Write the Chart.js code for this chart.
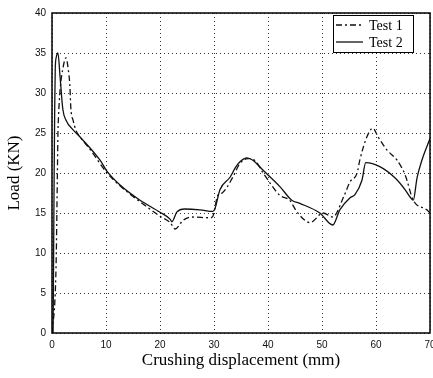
<!DOCTYPE html>
<html>
<head>
<meta charset="utf-8">
<script src="https://cdn.jsdelivr.net/npm/chart.js@4.4.1/dist/chart.umd.min.js"></script>
<style>
  html, body { margin: 0; padding: 0; background: #fff; }
  #wrap { width: 433px; height: 378px; }
</style>
</head>
<body>
<div id="wrap"><canvas id="loadChart"></canvas></div>
<script>
// --- data ---
const test1X = [0, 0.6, 0.8, 0.9, 1.0, 1.1, 1.2, 1.5, 2.0, 2.6, 3.0, 3.3, 3.5, 3.9, 4.4, 5.2, 7, 10.2, 12.6, 16.3, 20, 21.9, 22.8, 24.3, 25.9, 29.3, 29.8, 30.7, 31.5, 33.5, 34.8, 36.3, 37.5, 39.2, 42.2, 44, 45.4, 47.8, 50.2, 52, 54, 55.2, 56.5, 57, 58.3, 59.4, 60.4, 62, 63.9, 65.4, 66.9, 69.4, 70];
const test1Y = [0, 5, 10, 15, 20, 25, 27, 30.4, 33, 34.4, 33, 31, 28, 26.6, 25.4, 24.5, 23, 20, 18.4, 16.4, 14.6, 13.8, 13, 14.1, 14.5, 14.4, 14.6, 17.2, 17.5, 19.5, 21.2, 21.8, 21.6, 19.9, 17.2, 16.6, 15.1, 13.8, 15, 14.5, 17, 18.9, 20, 21.6, 24.5, 25.6, 24.5, 22.9, 21.6, 19.75, 16.6, 15.4, 15];

const test2X = [0.2, 0.3, 0.4, 0.5, 0.6, 0.8, 1.1, 1.5, 2.0, 2.6, 3.9, 5.2, 8.9, 10.2, 12.6, 16.3, 20, 21.9, 22.2, 23.1, 24.6, 27.4, 29.8, 30.2, 31.1, 33, 33.9, 34.8, 36.1, 37.2, 39, 42.2, 44.4, 45.9, 49.6, 52, 53.3, 55.2, 56.1, 57.4, 58.1, 60.7, 63.5, 65.4, 66.3, 66.9, 67.6, 68.5, 70];
const test2Y = [0, 10, 20, 28, 33, 34.5, 35, 32, 28, 26.6, 25.4, 24.5, 21.6, 20.2, 18.5, 16.6, 15.1, 14.2, 13.9, 15.1, 15.5, 15.4, 15.2, 15.6, 17.9, 19.5, 20.6, 21.4, 21.9, 21.6, 20.4, 18.3, 16.6, 16.2, 15, 13.5, 15.4, 16.9, 17.3, 19.1, 21.3, 20.8, 19.4, 17.9, 17, 16.6, 19.4, 21.6, 24.3];

const seriesLabels = ['Test 1', 'Test 2'];
const xTicks = [0, 10, 20, 30, 40, 50, 60, 70];
const yTicks = [0, 5, 10, 15, 20, 25, 30, 35, 40];

const toPoints = (xs, ys) => xs.map((x, i) => ({ x: x, y: ys[i] }));

// frame round the plot area, like the matlab box
const framePlugin = {
    id: 'frame',
    afterDatasetsDraw(chart) {
        const { ctx, chartArea: a } = chart;
        ctx.save();
        ctx.strokeStyle = '#000';
        ctx.lineWidth = 1.5;
        ctx.strokeRect(a.left, a.top, a.right - a.left, a.bottom - a.top);
        ctx.restore();
    }
};

// boxed legend inside the top right corner
const boxLegendPlugin = {
    id: 'boxLegend',
    afterDraw(chart) {
        const { ctx, chartArea: a } = chart;
        const x0 = a.right - 97, y0 = a.top + 2, w = 80, h = 37;
        ctx.save();
        ctx.fillStyle = '#fff';
        ctx.fillRect(x0, y0, w, h);
        ctx.strokeStyle = '#000';
        ctx.lineWidth = 1;
        ctx.strokeRect(x0 + 0.5, y0 + 0.5, w, h);
        ctx.font = '14px "Liberation Serif", "DejaVu Serif", serif';
        ctx.textBaseline = 'middle';
        chart.data.datasets.forEach((ds, i) => {
            const yy = y0 + 10 + i * 17;
            ctx.beginPath();
            ctx.setLineDash(ds.borderDash || []);
            ctx.lineWidth = ds.borderWidth;
            ctx.strokeStyle = ds.borderColor;
            ctx.moveTo(x0 + 3, yy);
            ctx.lineTo(x0 + 30, yy);
            ctx.stroke();
            ctx.setLineDash([]);
            ctx.fillStyle = '#000';
            ctx.fillText(ds.label, x0 + 36, yy + 1);
        });
        ctx.restore();
    }
};

// matlab style dotted grid (in v4 the grid dash lives on border.dash)
const gridStyle = { color: 'rgba(0,0,0,0.8)', lineWidth: 1, drawTicks: false };
const borderStyle = { display: false, dash: [1, 3] };

new Chart(document.getElementById('loadChart'), {
    type: 'line',
    data: {
        datasets: [{
            label: seriesLabels[0],
            data: toPoints(test1X, test1Y),
            borderColor: '#111',
            borderWidth: 1.3,
            borderDash: [6, 3, 2, 3],
            pointRadius: 0,
            cubicInterpolationMode: 'monotone',
            fill: false
        }, {
            label: seriesLabels[1],
            data: toPoints(test2X, test2Y),
            borderColor: '#111',
            borderWidth: 1.3,
            pointRadius: 0,
            cubicInterpolationMode: 'monotone',
            fill: false
        }]
    },
    options: {
        responsive: true,
        maintainAspectRatio: false,
        animation: false,
        layout: { padding: { top: 13, right: 3, left: 0, bottom: 0 } },
        plugins: {
            legend: { display: false },
            tooltip: { enabled: false }
        },
        scales: {
            x: {
                type: 'linear',
                min: 0,
                max: 70,
                afterBuildTicks: s => { s.ticks = xTicks.map(v => ({ value: v })); },
                afterFit: s => { s.height = 45; s.paddingLeft = 0; s.paddingRight = 0; },
                border: Object.assign({}, borderStyle),
                grid: Object.assign({}, gridStyle),
                ticks: {
                    padding: 6,
                    color: '#111',
                    maxRotation: 0,
                    font: { family: '"Liberation Sans", Arial, sans-serif', size: 10 }
                },
                title: {
                    display: true,
                    text: 'Crushing displacement (mm)',
                    color: '#000',
                    padding: { top: 0, bottom: 7 },
                    font: { family: '"Liberation Serif", "DejaVu Serif", serif', size: 17 }
                }
            },
            y: {
                min: 0,
                max: 40,
                afterBuildTicks: s => { s.ticks = yTicks.map(v => ({ value: v })); },
                afterFit: s => { s.width = 52; s.paddingTop = 0; s.paddingBottom = 0; },
                border: Object.assign({}, borderStyle),
                grid: Object.assign({}, gridStyle),
                ticks: {
                    padding: 6,
                    color: '#111',
                    font: { family: '"Liberation Sans", Arial, sans-serif', size: 10 }
                },
                title: {
                    display: true,
                    text: 'Load (KN)',
                    color: '#000',
                    padding: { top: 4, bottom: 0 },
                    font: { family: '"Liberation Serif", "DejaVu Serif", serif', size: 17 }
                }
            }
        }
    },
    plugins: [framePlugin, boxLegendPlugin]
});
</script>
</body>
</html>
